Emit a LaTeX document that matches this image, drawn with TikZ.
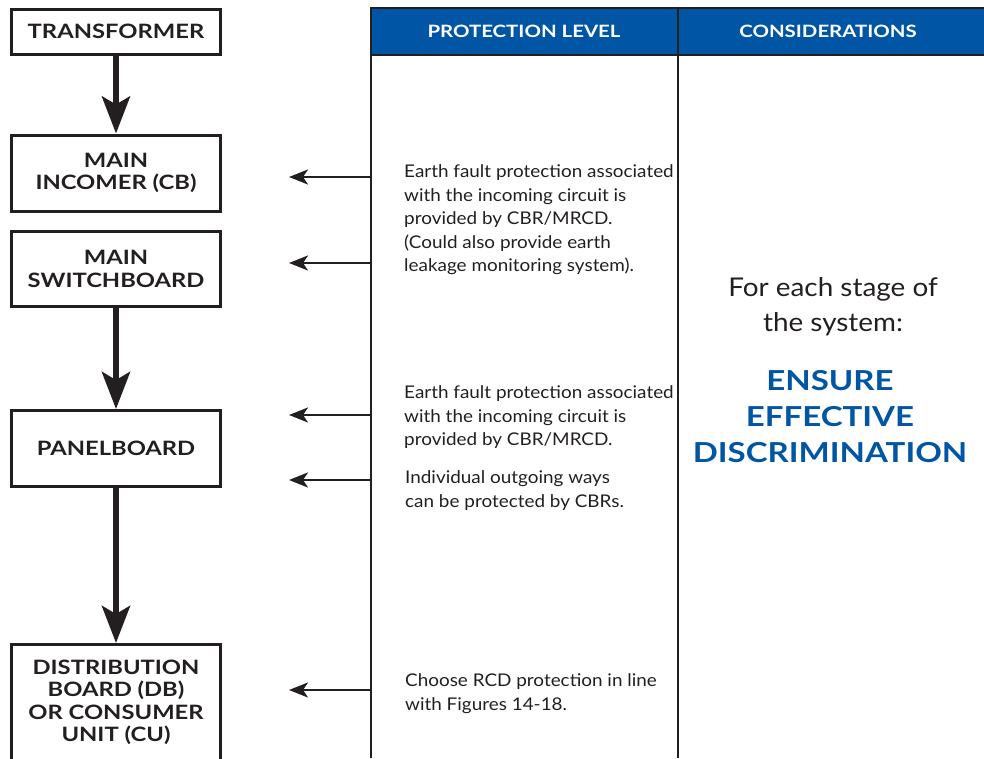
\documentclass[tikz,border=0pt]{standalone}
\usepackage{fontspec}
\setmainfont{Lato}
\newfontfamily\widefont[FakeStretch=1.2]{Lato}
\newfontfamily\midfont[FakeStretch=1.08]{Lato}
\usetikzlibrary{arrows.meta}
\definecolor{hdrblue}{HTML}{0055A4}
\definecolor{inkgray}{HTML}{231F20}

\begin{document}
\begin{tikzpicture}[x=1pt,y=-1pt,
    stage/.style={draw=inkgray,line width=3pt,minimum width=209pt,inner sep=0pt,align=center,
      text=inkgray,font=\widefont\fontsize{19.8}{22.5}\selectfont\bfseries},
    feed/.style={inkgray,line width=6pt,-{Stealth[length=37pt,width=28pt,inset=8pt]}},
    tap/.style={inkgray,line width=2.2pt,-{Stealth[length=19pt,width=15pt,inset=5pt]}},
    note/.style={anchor=north west,inner sep=0pt,align=left,text=inkgray,
      font=\midfont\fontsize{17.5}{23.6}\selectfont},
    head/.style={text=white,font=\widefont\fontsize{17}{18}\selectfont\bfseries}]
		\useasboundingbox (0,0) rectangle (984,758);
		\clip (0,0) rectangle (984,758);
		% stages
		\node[stage,minimum height=44.5pt] (trafo) at (116,31.75) {TRANSFORMER};
		\node[stage,minimum height=76pt] (incomer) at (116,173) {MAIN\\INCOMER (CB)};
		\node[stage,minimum height=75.5pt] (board) at (116,269) {MAIN\\SWITCHBOARD};
		\node[stage,minimum height=76pt] (panel) at (116,448.5) {PANELBOARD};
		\node[stage,minimum height=116pt] (db) at (116,702.5) {DISTRIBUTION\\BOARD (DB)\\OR CONSUMER\\UNIT (CU)};
		% feeds
		\draw[feed] (trafo) -- (incomer);
		\draw[feed] (board) -- (panel);
		\draw[feed] (panel) -- (db);
		% table
		\fill[hdrblue] (371,8) rectangle (984,55);
		\draw[inkgray,line width=2pt] (371,758) -- (371,8) -- (984,8);
		\draw[inkgray,line width=2pt] (371,55) -- (984,55);
		\draw[inkgray,line width=2pt] (678,8) -- (678,758);
		\node[head] (prothead) at (524,31) {PROTECTION LEVEL};
		\node[head] (conshead) at (828,31) {CONSIDERATIONS};
		% taps
		\coordinate (t1) at (371,177); \coordinate (e1) at (289,177);
		\coordinate (t2) at (371,263); \coordinate (e2) at (289,263);
		\coordinate (t3) at (371,415); \coordinate (e3) at (289,415);
		\coordinate (t4) at (371,480); \coordinate (e4) at (289,480);
		\coordinate (t5) at (371,690); \coordinate (e5) at (289,690);
		\foreach \i in {1,...,5}
			\draw[tap] (t\i) -- (e\i);
		% notes
		\node[note] (p1) at (404,164.5) {Earth fault protection associated\\with the incoming circuit is\\provided by CBR/MRCD.\\(Could also provide earth\\leakage monitoring system).};
		\node[note] (p2) at (404,385.5) {Earth fault protection associated\\with the incoming circuit is\\provided by CBR/MRCD.};
		\node[note] (p3) at (405,470.5) {Individual outgoing ways\\can be protected by CBRs.};
		\node[note] (p4) at (405,673.5) {Choose RCD protection in line\\with Figures 14-18.};
		% considerations
		\node[align=center,text=inkgray,font=\midfont\fontsize{25.8}{35}\selectfont] (stagetxt) at (833,306.5) {For each stage of\\the system:};
		\node[align=center,text=hdrblue,font=\widefont\fontsize{27.5}{36}\selectfont\bfseries] (ensure) at (830,416.5) {ENSURE\\EFFECTIVE\\DISCRIMINATION};
	\end{tikzpicture}
\end{document}
